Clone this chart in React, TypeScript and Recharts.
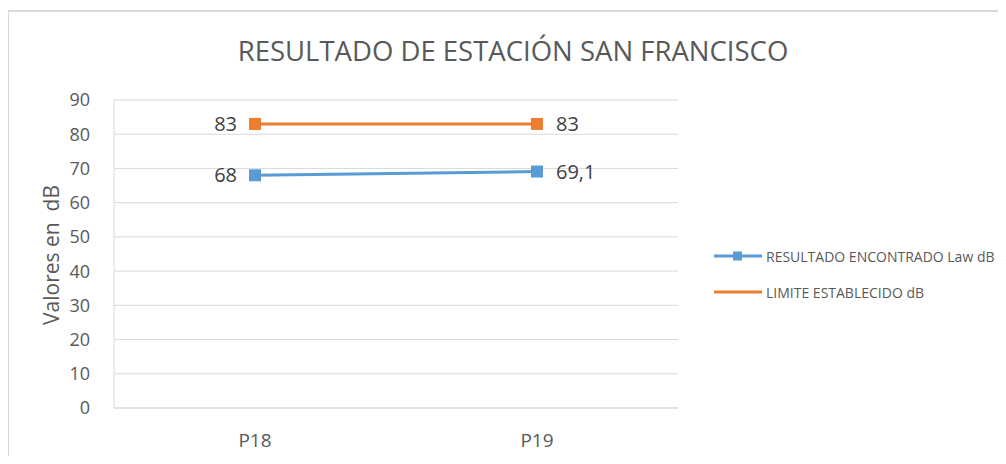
import React from "react";
import { LineChart, Line, XAxis, YAxis, CartesianGrid, Legend, LabelList } from "recharts";

const categories = ["P18", "P19"];
const resultado = [68, 69.1];
const limite = [83, 83];
const yTicks = [0, 10, 20, 30, 40, 50, 60, 70, 80, 90];
const seriesNames = ["RESULTADO ENCONTRADO Law dB", "LIMITE ESTABLECIDO dB"];
const seriesColors = ["#5B9BD5", "#ED7D31"];
const title = "RESULTADO DE ESTACIÓN SAN FRANCISCO";
const yLabel = "Valores en  dB";

const data = categories.map((c, i) => ({ name: c, resultado: resultado[i], limite: limite[i] }));

const FONT = "'Open Sans', 'Noto Sans', sans-serif";

const SquareDot = (props: any) => {
  const { cx, cy, fill } = props;
  if (cx == null || cy == null) return null;
  return <rect x={cx - 6} y={cy - 6} width={12} height={12} fill={fill} />;
};

const makeLabel = (n: number) => (props: any) => {
  const { x, y, value, index } = props;
  const left = index === 0;
  const txt = String(value).replace(".", ",");
  return (
    <text
      x={left ? x - 18 : x + 19}
      y={y}
      dy={7}
      textAnchor={left ? "end" : "start"}
      fontSize={20}
      fill="#404040"
      fontFamily={FONT}
    >
      {txt}
    </text>
  );
};

const LegendContent = () => (
  <div style={{ fontFamily: FONT, fontSize: 14, color: "#595959", width: 290 }}>
    {seriesNames.map((n, i) => (
      <div key={n} style={{ display: "flex", alignItems: "center", height: 36 }}>
        <svg width={48} height={12} style={{ marginRight: 4, flexShrink: 0 }}>
          <line x1={0} y1={6} x2={48} y2={6} stroke={seriesColors[i]} strokeWidth={3} />
          {i === 0 && <rect x={19} y={1.5} width={9} height={9} fill={seriesColors[i]} />}
        </svg>
        <span style={{ whiteSpace: "nowrap" }}>{n}</span>
      </div>
    ))}
  </div>
);

export default function App() {
  return (
    <div style={{ position: "relative", width: 1006, height: 464, margin: -8, overflow: "hidden", background: "#fff" }}>
      <div
        style={{
          position: "absolute",
          left: 7,
          top: 10,
          width: 1100,
          height: 500,
          border: "2px solid #d9d9d9",
        }}
      />
      <div style={{ position: "absolute", left: 0, top: 0 }}>
        <LineChart
          width={1006}
          height={464}
          data={data}
          margin={{ top: 100, left: 0, right: 328, bottom: 0 }}
        >
          <text x={513} y={61} textAnchor="middle" fontSize={27.5} fill="#595959" fontFamily={FONT}>
            {title}
          </text>
          <text
            x={59}
            y={255}
            transform="rotate(-90 59 255)"
            textAnchor="middle"
            fontSize={21}
            fill="#595959"
            fontFamily={FONT}
            style={{ whiteSpace: "pre" }}
          >
            {yLabel}
          </text>
          <CartesianGrid vertical={false} stroke="#d9d9d9" />
          <XAxis
            dataKey="name"
            height={56}
            padding={{ left: 141, right: 141 }}
            axisLine={{ stroke: "#d9d9d9" }}
            tickLine={false}
            tick={{ fontSize: 19, fill: "#595959", fontFamily: FONT }}
            tickMargin={20}
          />
          <YAxis
            width={114}
            domain={[0, 90]}
            ticks={yTicks}
            axisLine={{ stroke: "#d9d9d9" }}
            tickLine={false}
            tick={{ fontSize: 18, fill: "#595959", fontFamily: FONT }}
            tickMargin={18}
          />
          <Legend
            layout="horizontal"
            verticalAlign="middle"
            content={<LegendContent />}
            wrapperStyle={{ position: "absolute", left: 714, top: 238, width: 290 }}
          />
          <Line
            dataKey="resultado"
            name={seriesNames[0]}
            stroke={seriesColors[0]}
            strokeWidth={3}
            dot={<SquareDot fill={seriesColors[0]} />}
            activeDot={false}
            isAnimationActive={false}
          >
            <LabelList dataKey="resultado" content={makeLabel(0)} />
          </Line>
          <Line
            dataKey="limite"
            name={seriesNames[1]}
            stroke={seriesColors[1]}
            strokeWidth={3}
            dot={<SquareDot fill={seriesColors[1]} />}
            activeDot={false}
            isAnimationActive={false}
          >
            <LabelList dataKey="limite" content={makeLabel(1)} />
          </Line>
        </LineChart>
      </div>
    </div>
  );
}
